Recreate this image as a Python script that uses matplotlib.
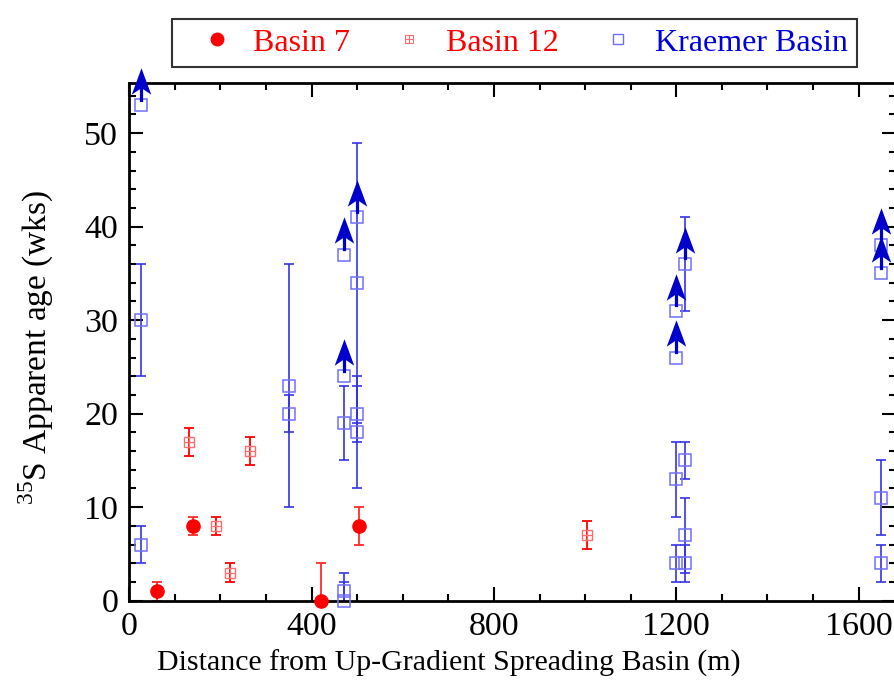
import numpy as np
import matplotlib
matplotlib.use('Agg')
import matplotlib.pyplot as plt
from matplotlib.lines import Line2D

plt.rcParams['font.family'] = ['Liberation Serif', 'DejaVu Serif']
plt.rcParams['mathtext.fontset'] = 'custom'
plt.rcParams['mathtext.rm'] = 'Liberation Serif'

# Basin 7 (filled circles)
b7_x = np.array([60, 140, 420, 505])
b7_y = np.array([1, 8, 0, 8])
b7_err = np.array([1, 0.95, 4, 2])

# Basin 12 (squares with plus)
b12_x = np.array([130, 190, 220, 265, 1005])
b12_y = np.array([17, 8, 3, 16, 7])
b12_err = np.array([1.5, 1, 1, 1.5, 1.5])

# Kraemer Basin (open squares), arrow = lower bound
kr_x = np.array([25, 25, 25, 350, 350, 470, 470, 470, 470, 470, 500, 500, 500, 500,
                 1200, 1200, 1200, 1200, 1220, 1220, 1220, 1220, 1650, 1650, 1650, 1650])
kr_y = np.array([53, 30, 6, 23, 20, 37, 24, 19, 1, 0, 41, 34, 20, 18,
                 31, 26, 13, 4, 36, 15, 7, 4, 38, 35, 11, 4])
kr_err = np.array([0, 6, 2, 13, 2, 0, 0, 4, 2, 2, 0, 15, 3, 6,
                   0, 0, 4, 2, 5, 2, 4, 2, 0, 0, 4, 2])
kr_arrow = np.array([1, 0, 0, 0, 0, 1, 1, 0, 0, 0, 1, 0, 0, 0,
                     1, 1, 0, 0, 1, 0, 0, 0, 1, 1, 0, 0], dtype=bool)

xticks = [0, 400, 800, 1200, 1600]
yticks = [0, 10, 20, 30, 40, 50]

fig = plt.figure(figsize=(8.94, 6.82), dpi=100)
ax = fig.add_axes([129.3/894, 1-600.7/682, (896-129.3)/894, (600.7-82.7)/682])

red = '#ff0000'
red_light = '#ff6e6e'
blue_err = '#3030e8'
blue_mk = '#6f6fff'
blue_arrow = '#0000cc'

# error bars
m = b7_err > 0
ax.errorbar(b7_x[m], b7_y[m], yerr=b7_err[m], fmt='none', ecolor='#ff2a2a',
            elinewidth=1.3, capsize=3.5, capthick=1.3)
ax.errorbar(b12_x, b12_y, yerr=b12_err, fmt='none', ecolor=red,
            elinewidth=1.3, capsize=3.5, capthick=1.3)
m = kr_err > 0
ax.errorbar(kr_x[m], kr_y[m], yerr=kr_err[m], fmt='none', ecolor=blue_err,
            elinewidth=1.3, capsize=3.5, capthick=1.3, alpha=0.9)

# markers
ax.plot(b7_x, b7_y, 'o', color=red, ms=9.5, clip_on=False, zorder=4)
ax.plot(b12_x, b12_y, 's', mfc='none', mec=red_light, ms=7.5, mew=1.0, clip_on=False, zorder=4)
ax.plot(b12_x, b12_y, '+', color=red_light, ms=7.5, mew=0.9, clip_on=False, zorder=4)
ax.plot(kr_x, kr_y, 's', mfc='none', mec=blue_mk, ms=8, mew=1.1, clip_on=False, zorder=4)

# lower-bound arrows
head = [(0, 0.5), (0.37, -0.5), (0, -0.25), (-0.37, -0.5), (0, 0.5)]
for x, y in zip(kr_x[kr_arrow], kr_y[kr_arrow]):
    ax.plot([x, x], [y + 0.6, y + 2.4], color=blue_arrow, lw=2.3, clip_on=False, zorder=5)
    ax.plot(x, y + 2.6, marker=head, color=blue_arrow, ms=19, mew=0,
            clip_on=False, zorder=5)

ax.set_xlim(0, 1682)
ax.set_ylim(0, 55.4)
ax.set_xticks(xticks)
ax.set_yticks(yticks)
ax.set_xticks(np.arange(0, 1700, 100), minor=True)
ax.set_yticks(np.arange(0, 56, 2), minor=True)
ax.tick_params(which='both', direction='in', top=True, right=True, width=1.5, labelsize=24.5)
ax.tick_params(which='major', length=10, pad=8)
ax.tick_params(which='minor', length=5)
for s in ax.spines.values():
    s.set_linewidth(2)

ax.set_xlabel('Distance from Up-Gradient Spreading Basin (m)', fontsize=21.5)
ax.xaxis.set_label_coords(0.417, -0.094)
ax.set_ylabel('$^{35}$S Apparent age (wks)', fontsize=24)
ax.yaxis.set_label_coords(-0.095, 0.49)

handles = [
    Line2D([], [], ls='none', marker='o', color=red, ms=9),
    (Line2D([], [], ls='none', marker='s', mfc='none', mec=red_light, ms=6, mew=0.8),
     Line2D([], [], ls='none', marker='+', color=red_light, ms=6, mew=0.8)),
    Line2D([], [], ls='none', marker='s', mfc='none', mec=blue_mk, ms=6.5, mew=1),
]
leg = fig.legend(handles, ['Basin 7', 'Basin 12', 'Kraemer Basin'], ncol=3,
                 loc='center', bbox_to_anchor=(514.5/894, 1-43/682), fontsize=23,
                 frameon=True, fancybox=False, edgecolor='black', handlelength=2.2,
                 handletextpad=0.05, columnspacing=0.75, borderpad=0.3)
leg.get_frame().set_linewidth(1.5)
for t, c in zip(leg.get_texts(), [red, red, '#0000dd']):
    t.set_color(c)

fig.savefig('out.png', dpi=100)
